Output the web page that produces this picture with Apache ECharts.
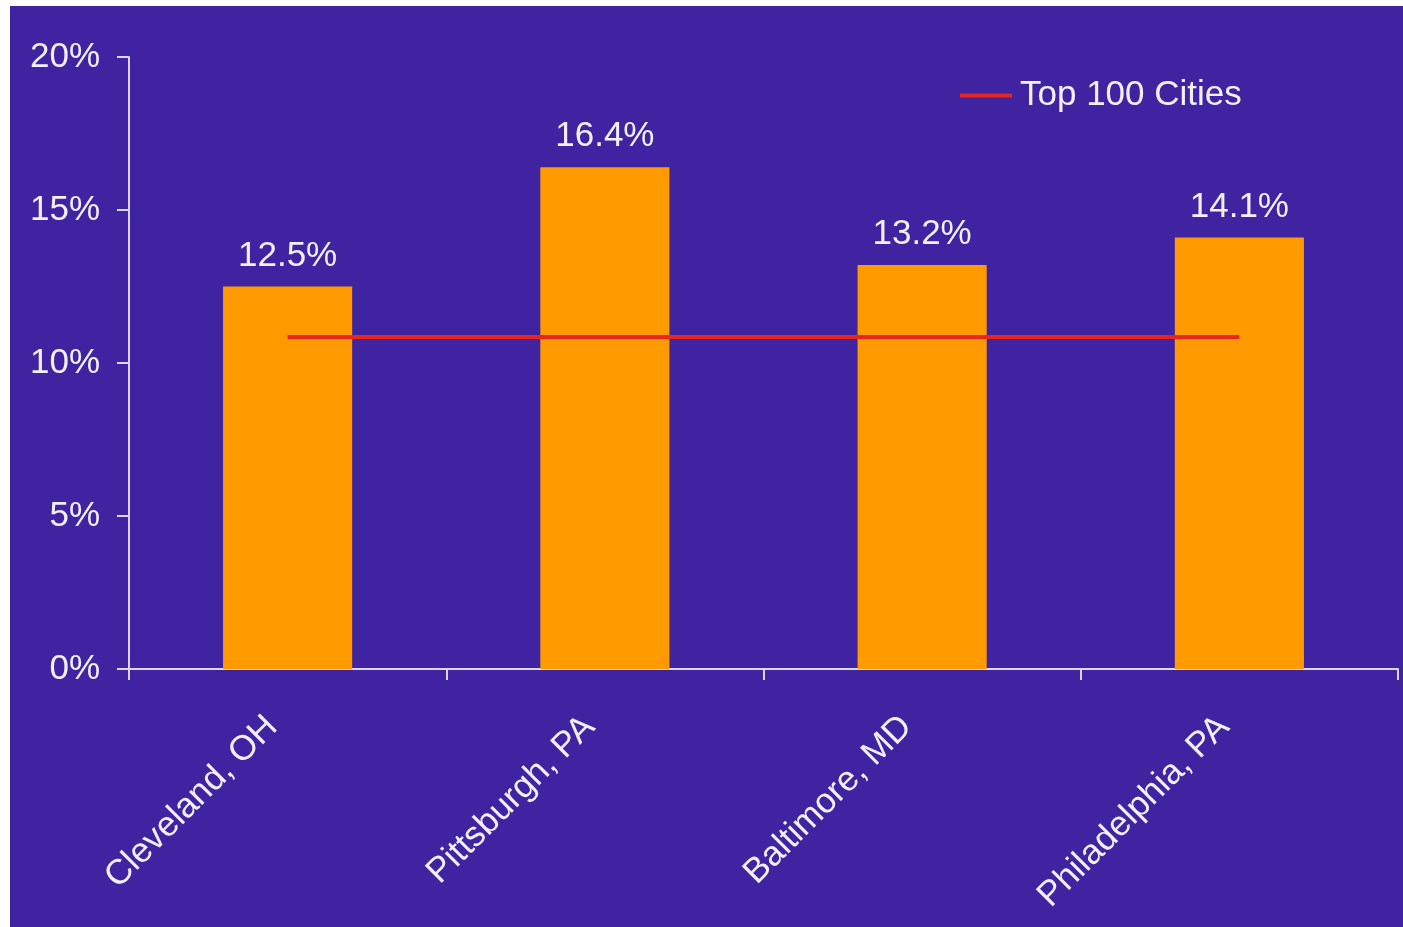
<!DOCTYPE html>
<html>
<head>
<meta charset="utf-8">
<title>Top 100 Cities comparison</title>
<script src="https://cdn.jsdelivr.net/npm/echarts@6/dist/echarts.min.js"></script>
<style>
  html, body { margin: 0; padding: 0; background: #ffffff; }
  #chart { position: absolute; left: 10px; top: 6px; width: 1393px; height: 921px; background: #3f23a0; }
</style>
</head>
<body>
<div id="chart"></div>
<script>
// Share per city, in percent
const cities = ['Cleveland, OH', 'Pittsburgh, PA', 'Baltimore, MD', 'Philadelphia, PA'];
const cityValues = [12.5, 16.4, 13.2, 14.1];
// Benchmark across the top 100 cities
const benchmarkName = 'Top 100 Cities';
const benchmarkValues = [10.85, 10.85, 10.85, 10.85];
const yTicks = [0, 5, 10, 15, 20];

const textColor = '#f3efff';
const axisColor = '#ddd6f2';
const fontFamily = '"Liberation Sans", Arial, sans-serif';
const fontSize = 35;

const chart = echarts.init(document.getElementById('chart'));
chart.setOption({
  backgroundColor: '#3f23a0',
  animation: false,
  textStyle: { fontFamily: fontFamily },
  grid: { left: 119, right: 5, top: 51, bottom: 258, containLabel: false },
  legend: {
    data: [benchmarkName],
    left: 945,
    top: 67,
    icon: 'rect',
    itemWidth: 52,
    itemHeight: 4,
    textStyle: { color: textColor, fontSize: fontSize, fontFamily: fontFamily, padding: [0, 0, 0, 3] }
  },
  xAxis: {
    type: 'category',
    data: cities,
    boundaryGap: true,
    axisLine: { lineStyle: { color: axisColor, width: 2 } },
    axisTick: { show: true, length: 11, lineStyle: { color: axisColor, width: 2 } },
    axisLabel: {
      rotate: 45,
      margin: 37,
      padding: [0, 22, 0, 0],
      color: textColor,
      fontSize: fontSize,
      fontFamily: fontFamily
    }
  },
  yAxis: {
    type: 'value',
    min: yTicks[0],
    max: yTicks[yTicks.length - 1],
    interval: yTicks[1] - yTicks[0],
    splitLine: { show: false },
    axisLine: { show: true, lineStyle: { color: axisColor, width: 2 } },
    axisTick: { show: true, length: 12, lineStyle: { color: axisColor, width: 2 } },
    axisLabel: { formatter: '{value}%', margin: 29, color: textColor, fontSize: fontSize, fontFamily: fontFamily }
  },
  series: [
    {
      type: 'bar',
      name: 'City',
      data: cityValues,
      barWidth: '40.7%',
      itemStyle: { color: '#ff9a00' },
      label: {
        show: true,
        position: 'top',
        distance: 13,
        formatter: (p) => p.value.toFixed(1) + '%',
        color: textColor,
        fontSize: fontSize,
        fontFamily: fontFamily
      }
    },
    {
      type: 'line',
      name: benchmarkName,
      data: benchmarkValues,
      symbol: 'none',
      lineStyle: { color: '#e8261e', width: 4 },
      itemStyle: { color: '#e8261e' },
      z: 5
    }
  ]
});
</script>
</body>
</html>
